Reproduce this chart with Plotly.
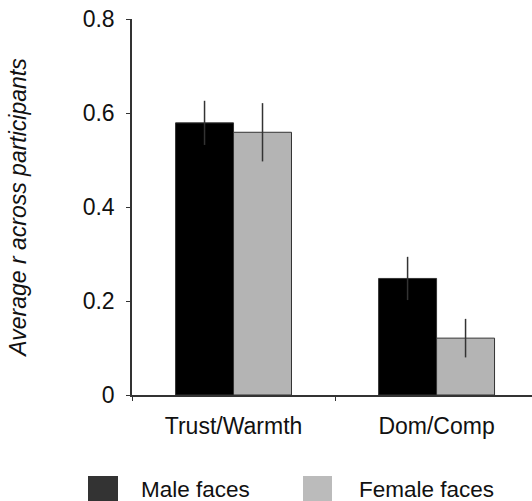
import plotly.graph_objects as go

categories = ["Trust/Warmth", "Dom/Comp"]
male_values = [0.579, 0.248]
male_errors = [0.047, 0.046]
female_values = [0.559, 0.121]
female_errors = [0.062, 0.041]
y_ticks = [0, 0.2, 0.4, 0.6, 0.8]
y_tick_labels = ["0", "0.2", "0.4", "0.6", "0.8"]
legend_labels = ["Male faces", "Female faces"]

FONT = "Liberation Sans, Arial, sans-serif"
FS = 23
W, H = 532, 501
L, R, T, B = 132, 0, 19, 106
pw, ph = W - L - R, H - T - B

def px_x(x):
    return (x - L) / pw

def px_y(y):
    return (H - B - y) / ph

fig = go.Figure()
fig.add_trace(go.Bar(
    x=categories, y=male_values, name=legend_labels[0],
    marker=dict(color="#000000", line=dict(color="#333333", width=1)),
    error_y=dict(type="data", array=male_errors, color="#333333", thickness=1.5, width=0),
))
fig.add_trace(go.Bar(
    x=categories, y=female_values, name=legend_labels[1],
    marker=dict(color="#b4b4b4", line=dict(color="#333333", width=1)),
    error_y=dict(type="data", array=female_errors, color="#333333", thickness=1.5, width=0),
))

# legend drawn manually (large swatches)
swatches = [(88, 118, "#333333", 139), (303, 332, "#bbbbbb", 357)]
for (x0, x1, col, tx), lab in zip(swatches, legend_labels):
    fig.add_shape(type="rect", xref="paper", yref="paper",
                  x0=px_x(x0), x1=px_x(x1), y0=px_y(476), y1=px_y(505),
                  fillcolor=col, line=dict(width=0))
    fig.add_annotation(xref="paper", yref="paper", x=px_x(tx), y=px_y(489),
                       text=lab, showarrow=False, xanchor="left", yanchor="middle",
                       font=dict(family=FONT, size=FS - 0.5, color="#111111"))

fig.update_layout(
    width=W, height=H,
    margin=dict(l=L, r=R, t=T, b=B, pad=0),
    paper_bgcolor="white", plot_bgcolor="white",
    barmode="group", bargap=0.429, bargroupgap=0,
    showlegend=False,
    font=dict(family=FONT, size=FS, color="#111111"),
)
fig.update_xaxes(
    range=[-0.5, 1.47], showline=True, linecolor="#333333", linewidth=1.5,
    ticks="outside", tickson="boundaries", ticklen=4, tickcolor="#333333",
    showgrid=False, zeroline=False, ticklabelstandoff=10,
    tickfont=dict(family=FONT, size=FS, color="#111111"),
)
fig.update_yaxes(
    range=[0, 0.8], showline=True, linecolor="#333333", linewidth=1.5,
    ticks="outside", ticklen=4, tickcolor="#333333",
    tickvals=y_ticks, ticktext=y_tick_labels,
    showgrid=False, zeroline=False, ticklabelstandoff=7,
    tickfont=dict(family=FONT, size=FS, color="#111111"),
    title=dict(text="<i>Average r across participants</i>", standoff=50,
               font=dict(family=FONT, size=FS, color="#111111")),
)

fig.write_html("out.html")
